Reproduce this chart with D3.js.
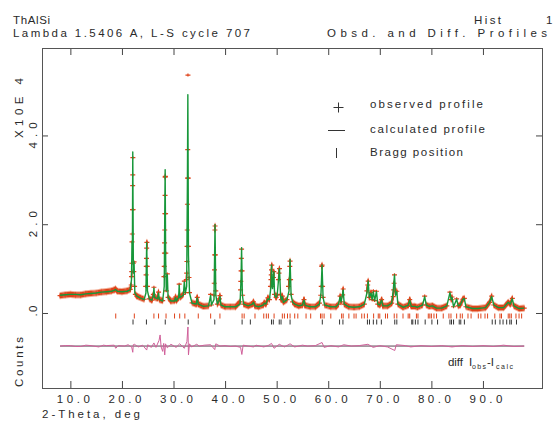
<!DOCTYPE html>
<html>
<head>
<meta charset="utf-8">
<script src="https://cdn.jsdelivr.net/npm/d3@7"></script>
<style>
  body{margin:0;background:#fff;}
  svg{display:block;}
  text{font-family:"Liberation Sans",Arial,sans-serif;fill:#2a2a2a;}
</style>
</head>
<body>
<div id="chart"></div>
<script>

//******************************************************************************
//**  Data (2-theta in deg, counts in units of 10^4)
//******************************************************************************
var xTicks = [10, 20, 30, 40, 50, 60, 70, 80, 90];
var xTickLabels = ["10.0", "20.0", "30.0", "40.0", "50.0", "60.0", "70.0", "80.0", "90.0"];
var yTicks = [0, 2, 4];
var yTickLabels = [".0", "2.0", "4.0"];

var obsProfile = [
  [8.0,0.39],[9,0.41],[10,0.42],[11,0.41],[12,0.41],[13,0.43],[14,0.44],[15,0.45],[16,0.47],[17,0.48],
  [18,0.5],[18.5,0.52],[18.75,0.54],[19.1,0.49],[20,0.48],[21,0.5],[21.6,0.53],
  [21.8,0.63],[21.85,0.82],[21.9,0.93],[21.93,1.12],[21.95,1.6],[22.0,1.78],[22.05,2.33],[22.08,2.87],
  [22.1,3.11],[22.12,3.5],[22.16,2.33],[22.2,1.12],[22.3,0.93],[22.35,1.15],[22.45,0.6],[22.6,0.42],
  [22.9,0.38],[23.5,0.35],[24.3,0.31],[24.6,0.6],[24.68,0.86],[24.72,1.05],[24.76,1.23],[24.8,1.46],
  [24.84,1.59],[24.9,1.05],[24.95,0.6],[25.3,0.32],[25.8,0.29],[26.1,0.42],[26.2,0.58],[26.35,0.35],
  [26.9,0.33],[27.1,0.47],[27.25,0.3],[27.9,0.28],[28.15,0.82],[28.2,1.05],[28.24,1.35],[28.27,1.58],
  [28.3,1.87],[28.33,2.24],[28.36,2.65],[28.38,3.06],[28.42,3.08],[28.46,2.24],[28.5,1.35],[28.6,0.5],
  [28.8,0.88],[28.95,0.35],[29.5,0.27],[30.2,0.28],[30.4,0.36],[30.55,0.28],[31.0,0.36],[31.1,0.65],
  [31.25,0.35],[31.9,0.42],[32.1,0.72],[32.3,0.46],[32.5,0.75],[32.55,0.9],[32.6,1.16],[32.63,1.5],
  [32.66,1.87],[32.7,2.45],[32.73,3.04],[32.76,3.68],[32.8,5.36],[32.86,3.04],[32.9,1.5],[33.0,0.8],
  [33.1,0.46],[33.6,0.23],[34.4,0.2],[34.6,0.35],[34.8,0.2],[35.8,0.15],[36.8,0.16],[37.2,0.42],
  [37.35,0.18],[37.85,0.4],[37.9,0.67],[37.95,0.97],[38.0,1.31],[38.03,1.87],[38.06,1.96],[38.1,1.31],
  [38.2,0.5],[38.5,0.2],[38.9,0.32],[39.0,0.39],[39.2,0.18],[40,0.14],[41,0.14],[42,0.14],
  [42.9,0.25],[43.0,0.52],[43.05,0.71],[43.1,0.95],[43.15,1.23],[43.2,1.44],[43.3,0.95],[43.4,0.4],
  [43.6,0.2],[44.5,0.16],[45.3,0.2],[45.5,0.25],[45.8,0.16],[46.5,0.14],[47.4,0.18],[47.6,0.23],
  [47.9,0.2],[48.3,0.34],[48.6,0.3],[48.8,0.6],[48.9,0.75],[48.95,0.86],[49.0,0.97],[49.05,1.08],
  [49.2,0.6],[49.4,0.8],[49.45,0.93],[49.6,0.42],[49.9,0.35],[50.1,0.4],[50.35,0.75],[50.45,0.9],
  [50.55,1.0],[50.75,0.42],[50.9,0.3],[51.1,0.38],[51.3,0.25],[52.0,0.3],[52.3,0.6],[52.45,0.75],
  [52.55,1.05],[52.6,1.17],[52.7,0.75],[52.8,0.42],[53.1,0.25],[53.5,0.2],[54.3,0.16],[55.0,0.18],
  [55.3,0.3],[55.5,0.17],[56.5,0.14],[57.5,0.14],[58.3,0.22],[58.55,0.4],[58.65,0.6],[58.75,1.05],
  [58.8,1.08],[58.9,0.6],[59.0,0.35],[59.3,0.18],[60.5,0.14],[61.5,0.14],[62.0,0.2],[62.3,0.38],
  [62.5,0.25],[62.8,0.41],[62.9,0.54],[63.1,0.2],[64,0.14],[65,0.13],[66,0.14],[67,0.2],
  [67.5,0.5],[67.65,0.63],[67.75,0.72],[67.95,0.35],[68.3,0.46],[68.5,0.3],[68.75,0.5],[69.0,0.28],
  [69.35,0.49],[69.6,0.2],[70.0,0.18],[70.35,0.3],[70.6,0.16],[71.5,0.16],[72.3,0.22],[72.6,0.37],
  [72.7,0.52],[72.78,0.67],[72.85,0.86],[73.0,0.5],[73.3,0.49],[73.5,0.2],[74.5,0.13],[75.5,0.17],
  [75.8,0.3],[76.1,0.15],[76.8,0.15],[77.3,0.13],[78.3,0.18],[78.7,0.38],[79.0,0.18],[79.6,0.15],
  [80.2,0.16],[81,0.11],[82,0.11],[83,0.16],[83.6,0.47],[83.85,0.3],[84.0,0.36],[84.3,0.14],
  [84.9,0.32],[85.2,0.16],[85.6,0.18],[86.1,0.31],[86.4,0.33],[86.7,0.14],[88,0.1],[89,0.1],
  [90.5,0.12],[91.3,0.24],[91.7,0.38],[92.1,0.18],[93,0.12],[94,0.12],[94.9,0.24],[95.3,0.2],
  [95.7,0.33],[96.0,0.16],[97,0.1],[98,0.11]
];

var calcProfile = [
  [8.0,0.40],[9,0.41],[10,0.42],[11,0.42],[12,0.41],[13,0.43],[14,0.44],[15,0.45],[16,0.47],[17,0.48],
  [18,0.49],[18.5,0.51],[18.75,0.53],[19.1,0.49],[20,0.48],[21,0.49],[21.6,0.52],[21.85,0.75],
  [21.95,1.6],[22.02,1.2],[22.1,3.63],[22.22,0.9],[22.35,1.15],[22.5,0.45],[22.9,0.38],[23.5,0.34],
  [24.3,0.3],[24.65,0.45],[24.8,1.59],[24.95,0.5],[25.3,0.32],[25.8,0.29],[26.1,0.4],[26.2,0.56],
  [26.35,0.35],[26.9,0.32],[27.1,0.45],[27.25,0.3],[27.9,0.27],[28.2,0.6],[28.3,2.2],[28.38,3.23],
  [28.48,1.2],[28.6,0.5],[28.8,0.86],[28.95,0.35],[29.5,0.27],[30.2,0.27],[30.4,0.35],[30.55,0.27],
  [31.0,0.35],[31.1,0.63],[31.25,0.35],[31.9,0.4],[32.1,0.7],[32.3,0.45],[32.55,0.6],[32.7,3.04],
  [32.78,4.92],[32.9,1.3],[33.1,0.45],[33.6,0.22],[34.4,0.2],[34.6,0.34],[34.8,0.2],[35.8,0.15],
  [36.8,0.16],[37.2,0.4],[37.35,0.18],[37.85,0.3],[38.05,1.99],[38.2,0.4],[38.5,0.2],[38.9,0.3],
  [39.0,0.37],[39.2,0.18],[40,0.14],[41,0.14],[42,0.14],[42.9,0.2],[43.1,0.8],[43.2,1.47],
  [43.35,0.4],[43.6,0.2],[44.5,0.16],[45.3,0.2],[45.5,0.24],[45.8,0.16],[46.5,0.14],[47.4,0.18],
  [47.6,0.22],[47.9,0.2],[48.3,0.32],[48.6,0.3],[48.9,0.6],[49.0,1.08],[49.2,0.55],[49.45,0.93],
  [49.6,0.4],[49.9,0.35],[50.1,0.4],[50.4,0.8],[50.55,1.0],[50.75,0.4],[50.9,0.3],[51.1,0.37],
  [51.3,0.24],[52.0,0.3],[52.4,0.5],[52.6,1.2],[52.8,0.4],[53.1,0.24],[53.5,0.2],[54.3,0.16],
  [55.0,0.18],[55.3,0.29],[55.5,0.17],[56.5,0.14],[57.5,0.14],[58.3,0.2],[58.6,0.45],[58.8,1.08],
  [59.0,0.35],[59.3,0.18],[60.5,0.14],[61.5,0.14],[62.0,0.2],[62.3,0.37],[62.5,0.25],[62.9,0.52],
  [63.1,0.2],[64,0.14],[65,0.13],[66,0.14],[67,0.2],[67.5,0.45],[67.75,0.72],[67.95,0.35],
  [68.3,0.45],[68.5,0.3],[68.75,0.48],[69.0,0.28],[69.35,0.48],[69.6,0.2],[70.0,0.18],[70.35,0.29],
  [70.6,0.16],[71.5,0.16],[72.3,0.22],[72.6,0.5],[72.85,0.86],[73.05,0.4],[73.3,0.48],[73.5,0.2],
  [74.5,0.13],[75.5,0.17],[75.8,0.29],[76.1,0.15],[76.8,0.15],[77.3,0.13],[78.3,0.18],[78.7,0.37],
  [79.0,0.18],[79.6,0.15],[80.2,0.16],[81,0.11],[82,0.11],[83,0.16],[83.6,0.46],[83.85,0.3],
  [84.0,0.35],[84.3,0.14],[84.9,0.31],[85.2,0.16],[85.6,0.18],[86.1,0.31],[86.4,0.32],[86.7,0.14],
  [88,0.1],[89,0.1],[90.5,0.12],[91.3,0.24],[91.7,0.37],[92.1,0.18],[93,0.12],[94,0.12],
  [94.9,0.24],[95.3,0.2],[95.7,0.32],[96.0,0.16],[97,0.1],[98,0.11]
];

var diffProfile = [
  [8,0],[9,0.01],[10,0.01],[11,-0.01],[12,-0.01],[13,0.02],[14,0.01],[15.5,-0.02],[16.4,0.02],[17,0.01],
  [18.5,0.02],[18.8,-0.05],[19.3,0.01],[20.5,0],[21.2,0.03],[21.9,-0.03],[22.1,-0.14],[22.2,0.03],
  [22.4,0.04],[23.2,-0.02],[24,0.02],[24.8,-0.09],[25,0.03],[25.7,-0.03],[26.2,0.07],[26.6,-0.03],
  [27.2,0.13],[27.4,0.25],[27.6,-0.02],[27.9,-0.12],[28.1,0.06],[28.3,-0.2],[28.45,0.05],[28.8,-0.04],
  [29.5,0.04],[30.5,-0.03],[31.2,0.05],[32.1,-0.05],[32.6,0.1],[32.8,0.43],[32.9,-0.2],[33.1,0.05],
  [33.5,-0.02],[34.5,0.04],[35,0],[36,0.02],[37.2,0.03],[38.0,-0.08],[38.2,0.05],[39,0],
  [40,0.01],[41,-0.01],[42,0],[43.0,-0.03],[43.25,-0.19],[43.5,0.02],[44.5,0],[45.5,-0.02],
  [46,0.02],[47.5,-0.02],[48.5,0.02],[49,0.06],[49.5,-0.05],[50.5,0.04],[51.5,-0.02],[52.6,0.05],
  [53.5,-0.02],[55,0.02],[56,0],[57.5,0.01],[58.8,0.08],[59.2,-0.03],[60.5,0.01],[62,-0.02],
  [63,0.03],[64.5,0],[66,0.01],[67.7,0.04],[68.7,-0.03],[70,0.01],[71.5,-0.02],[72.9,-0.1],
  [73.2,0.03],[75,0.01],[76,-0.02],[78,0.01],[80,-0.01],[82,0.01],[84,-0.02],[86,0.01],
  [88,-0.01],[90,0.01],[92,-0.01],[94,0.02],[96,-0.01],[98,0]
];

var braggPhase1 = [22.15, 24.75, 28.4, 32.85, 38.0, 43.3, 44.9, 49.0, 49.35, 50.5, 50.85, 52.6,
  58.85, 62.2, 62.85, 67.6, 68.0, 68.75, 69.4, 70.3, 72.9, 73.3, 76.2, 76.4, 76.9, 77.4, 78.8,
  80.1, 81.2, 83.6, 83.9, 84.3, 85.4, 85.7, 86.4, 91.8, 92.4, 93.3, 93.9, 94.6, 95.2, 95.5, 96.5];

var braggPhase2 = [18.8, 22.4, 26.2, 27.1, 28.55, 30.2, 31.2, 32.2, 34.8, 37.2, 39.0, 43.3, 43.7,
  45.8, 47.5, 48.0, 48.4, 49.5, 51.1, 51.5, 52.1, 52.6, 53.5, 54.1, 55.7, 56.6, 58.5, 58.8, 59.2,
  60.5, 62.6, 62.9, 64.0, 65.0, 65.4, 66.5, 67.0, 67.6, 68.8, 69.7, 70.0, 71.1, 71.5, 72.8, 73.3,
  74.5, 75.5, 75.8, 77.1, 77.4, 79.4, 79.7, 80.0, 80.5, 81.0, 82.3, 83.4, 83.8, 84.9, 85.6, 86.0,
  87.1, 87.7, 89.1, 89.6, 90.4, 90.9, 92.3, 93.3, 93.6, 94.9, 95.2, 95.5, 96.4, 97.0, 97.5];


//******************************************************************************
//**  Chart
//******************************************************************************
var width = 555, height = 421;
var frame = {left: 42, right: 542, top: 48, bottom: 388};
var diffOffset = -0.745;   //zero line of the difference curve
var obsColor = "#df431a", calcColor = "#17973a", diffColor = "#d0609a";

var svg = d3.select("#chart").append("svg")
    .attr("width", width)
    .attr("height", height);

var x = d3.scaleLinear().domain([4.5, 101.45]).range([frame.left, frame.right]);
var y = d3.scaleLinear().domain([-1.69, 5.97]).range([frame.bottom, frame.top]);


//**************************************************************************
//** Frame + ticks
//**************************************************************************
var axisG = svg.append("g").attr("class", "axes");
axisG.append("g").attr("transform", "translate(0," + frame.bottom + ")")
    .call(d3.axisBottom(x).tickValues(xTicks).tickSize(-7).tickFormat(""));
axisG.append("g").attr("transform", "translate(0," + frame.top + ")")
    .call(d3.axisTop(x).tickValues(xTicks).tickSize(-7).tickFormat(""));
axisG.append("g").attr("transform", "translate(" + frame.left + ",0)")
    .call(d3.axisLeft(y).tickValues(yTicks).tickSize(-6).tickFormat(""));
axisG.append("g").attr("transform", "translate(" + frame.right + ",0)")
    .call(d3.axisRight(y).tickValues(yTicks).tickSize(-6).tickFormat(""));
axisG.selectAll(".domain").remove();
axisG.selectAll(".tick line").attr("stroke", "#444").attr("stroke-width", 1);

svg.append("rect")
    .attr("x", frame.left + 0.5).attr("y", frame.top + 0.5)
    .attr("width", frame.right - frame.left).attr("height", frame.bottom - frame.top)
    .attr("fill", "none").attr("stroke", "#555").attr("stroke-width", 1);


//**************************************************************************
//** Tick labels
//**************************************************************************
svg.append("g").selectAll("text").data(xTicks).enter().append("text")
    .attr("x", function(d){ return x(d) + 3; })
    .attr("y", 403)
    .attr("text-anchor", "middle")
    .attr("font-size", 11.5)
    .attr("textLength", 33).attr("lengthAdjust", "spacing")
    .text(function(d, i){ return xTickLabels[i]; });

svg.append("g").selectAll("text").data(yTicks).enter().append("text")
    .attr("transform", function(d){ return "translate(37," + (y(d) - (d === 0 ? 2 : 0)) + ") rotate(-90)"; })
    .attr("text-anchor", "middle")
    .attr("font-size", 11.5)
    .attr("textLength", function(d){ return d === 0 ? 11 : 26; })
    .attr("lengthAdjust", "spacing")
    .text(function(d, i){ return yTickLabels[i]; });

var rotLabel = function(txt, cy, len){
    svg.append("text")
        .attr("transform", "translate(23," + cy + ") rotate(-90)")
        .attr("text-anchor", "middle")
        .attr("font-size", 11.5)
        .attr("textLength", len).attr("lengthAdjust", "spacing")
        .text(txt);
};
rotLabel("X10E  4", 108, 60);
rotLabel("Counts", 362, 50);

var label = function(txt, lx, ly, len, size){
    return svg.append("text")
        .attr("x", lx).attr("y", ly)
        .attr("font-size", size || 11.5)
        .attr("textLength", len).attr("lengthAdjust", "spacing")
        .text(txt);
};
label("2-Theta,  deg", 42, 418, 98);


//**************************************************************************
//** Titles
//**************************************************************************
label("ThAlSi", 13, 24, 37);
label("Lambda 1.5406 A,  L-S cycle  707", 13, 37, 237);
label("Hist", 474, 24, 27);
label("1", 546, 24, 6);
label("Obsd.  and Diff.  Profiles", 327, 37, 220);


//**************************************************************************
//** Bragg positions
//**************************************************************************
svg.append("g").selectAll("line").data(braggPhase2).enter().append("line")
    .attr("x1", function(d){ return x(d); }).attr("x2", function(d){ return x(d); })
    .attr("y1", 313.5).attr("y2", 318.5)
    .attr("stroke", obsColor).attr("stroke-width", 1);

svg.append("g").selectAll("line").data(braggPhase1).enter().append("line")
    .attr("x1", function(d){ return x(d); }).attr("x2", function(d){ return x(d); })
    .attr("y1", 319.5).attr("y2", 324.5)
    .attr("stroke", "#333").attr("stroke-width", 1);


//**************************************************************************
//** Difference curve
//**************************************************************************
svg.append("line")
    .attr("x1", x(8)).attr("x2", x(98))
    .attr("y1", y(diffOffset)).attr("y2", y(diffOffset))
    .attr("stroke", "#5a4350").attr("stroke-width", 1);

svg.append("path")
    .datum(diffProfile)
    .attr("fill", "none")
    .attr("stroke", diffColor).attr("stroke-width", 1)
    .attr("d", d3.line()
        .x(function(d){ return x(d[0]); })
        .y(function(d){ return y(d[1] + diffOffset); }));


//**************************************************************************
//** Observed + calculated profiles
//**************************************************************************
var line = d3.line()
    .x(function(d){ return x(d[0]); })
    .y(function(d){ return y(d[1]); });

//observed points are so dense on the background that the crosses merge
//into a band; only join neighbours that are close in height
var obsSegments = [];
for (var i = 1; i < obsProfile.length; i++){
    var p0 = obsProfile[i-1], p1 = obsProfile[i];
    if (Math.abs(y(p1[1]) - y(p0[1])) < 7) obsSegments.push([p0, p1]);
}

var obsBand = svg.append("g").attr("fill", "none").attr("stroke-linecap", "round");
[[-3, "#f3b29b"], [3, "#f3b29b"], [-2, obsColor], [-1, obsColor], [0, obsColor], [1, obsColor], [2, obsColor]]
.forEach(function(o){
    obsBand.append("g").attr("transform", "translate(0," + o[0] + ")")
        .selectAll("path").data(obsSegments).enter().append("path")
        .attr("stroke", o[1]).attr("stroke-width", 1.2)
        .attr("d", line);
});

svg.append("g").selectAll("path").data(obsProfile).enter().append("path")
    .attr("transform", function(d){ return "translate(" + x(d[0]) + "," + y(d[1]) + ")"; })
    .attr("d", "M-2.5,0H2.5M0,-1.5V1.5")
    .attr("stroke", obsColor).attr("stroke-width", 1.2);

svg.append("path").datum(calcProfile)
    .attr("fill", "none").attr("stroke", calcColor).attr("stroke-width", 1.4)
    .attr("stroke-linejoin", "round").attr("d", line);


//**************************************************************************
//** Legend
//**************************************************************************
var legend = svg.append("g").attr("stroke", "#333").attr("stroke-width", 1);
legend.append("path").attr("d", "M333.5,107.5H343.5M338.5,102.5V112.5");
legend.append("path").attr("d", "M328,130.5H345");
legend.append("path").attr("d", "M336.5,148V158");
label("observed  profile", 370, 108, 113);
label("calculated profile", 370, 133, 115);
label("Bragg position", 370, 156, 93);

label("diff", 448, 366, 15);
label("I", 469, 366, 2);
label("obs", 472, 369, 14, 7);
label("-I", 487, 366, 7);
label("calc", 496, 369, 17, 7);

</script>
</body>
</html>
